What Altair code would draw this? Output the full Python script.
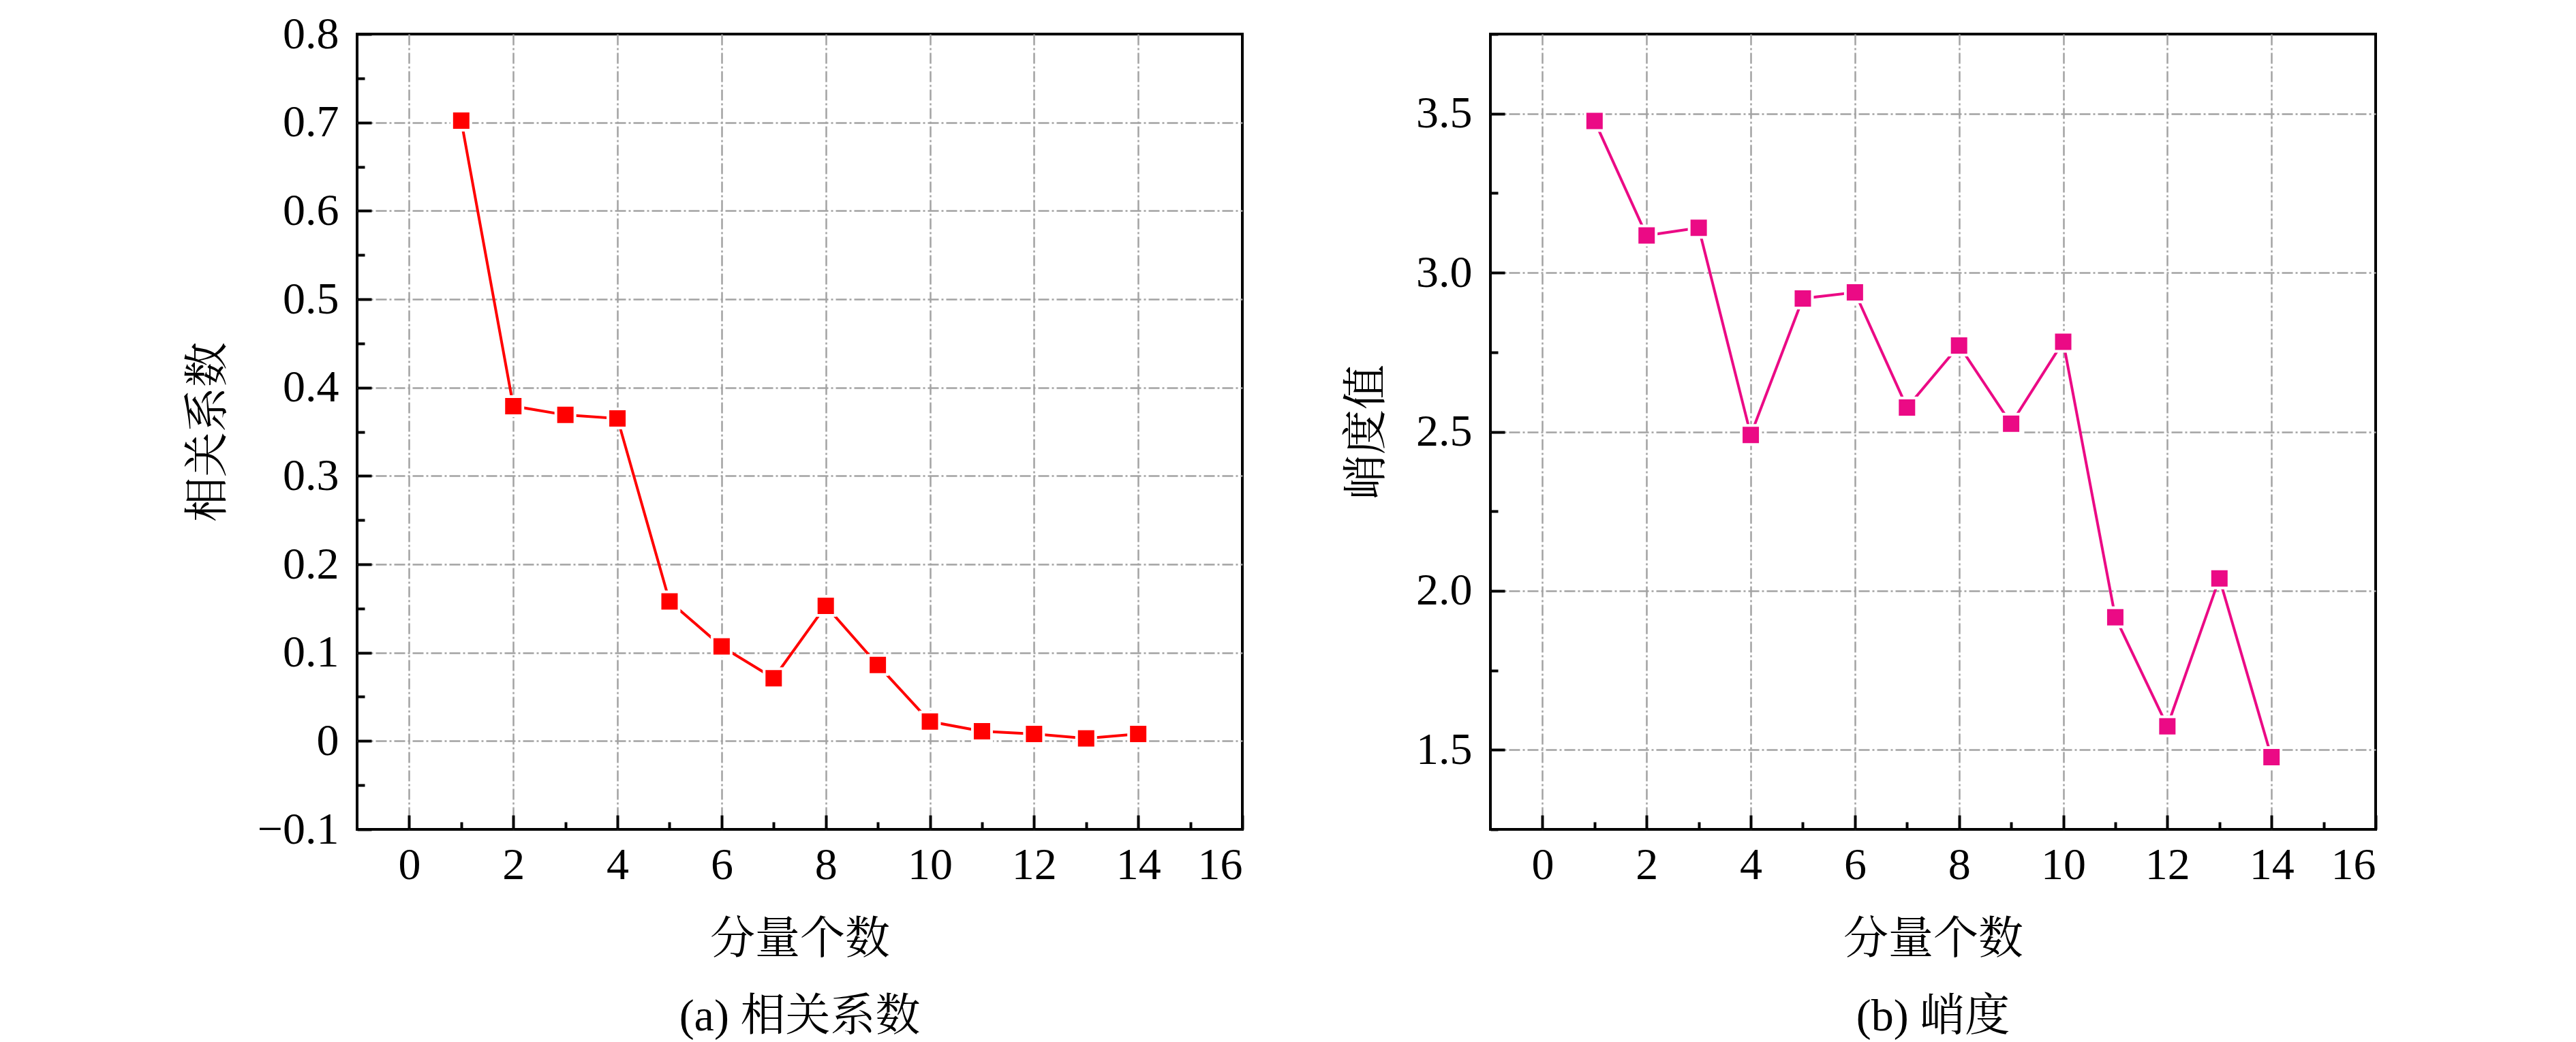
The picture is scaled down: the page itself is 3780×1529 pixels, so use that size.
import altair as alt
import pandas as pd

# ---------------- data ----------------
components = [1, 2, 3, 4, 5, 6, 7, 8, 9, 10, 11, 12, 13, 14]
corr_values = [0.702, 0.379, 0.369, 0.365, 0.158, 0.107, 0.071, 0.153, 0.086,
               0.022, 0.011, 0.008, 0.003, 0.008]
kurt_values = [3.477, 3.117, 3.141, 2.490, 2.919, 2.938, 2.576, 2.771, 2.525,
               2.783, 1.917, 1.574, 2.039, 1.477]

x_major = [0, 2, 4, 6, 8, 10, 12, 14, 16]
x_minor = [1, 3, 5, 7, 9, 11, 13, 15]
corr_major = [-0.1, 0.0, 0.1, 0.2, 0.3, 0.4, 0.5, 0.6, 0.7, 0.8]
corr_minor = [-0.05, 0.05, 0.15, 0.25, 0.35, 0.45, 0.55, 0.65, 0.75]
kurt_major = [1.5, 2.0, 2.5, 3.0, 3.5]
kurt_minor = [1.25, 1.75, 2.25, 2.75, 3.25, 3.75]

x_title = "分量个数"
FONT = "Liberation Serif, 'Noto Serif CJK SC', 'Noto Sans CJK SC', serif"
FS = 66
W, H = 1299, 1167
GRID_DASH = [16, 4, 3, 4]


def grid_cond(lo, hi):
    eps = 1e-6
    return {"condition": {"test": f"datum.value <= {lo + eps} || datum.value >= {hi - eps}",
                          "value": 0},
            "value": 1}


def panel(values, color, y_title, caption, y_domain, y_major, y_minor, y_fmt):
    df = pd.DataFrame({"n": components, "v": values})
    base = alt.Chart(df)
    xs = alt.Scale(domain=[-1, 16], nice=False, zero=False)
    ys = alt.Scale(domain=y_domain, nice=False, zero=False)

    x_lab = alt.Axis(values=x_major, format="d", title=x_title, orient="bottom",
                     grid=True, gridColor="#A3A3A3", gridWidth=2.5, gridDash=GRID_DASH,
                     gridOpacity=grid_cond(-1, 16),
                     ticks=False, tickSize=0, domain=False,
                     labelPadding=20, titlePadding=44)
    y_lab = alt.Axis(values=y_major, format=y_fmt, title=y_title, orient="left",
                     grid=True, gridColor="#A3A3A3", gridWidth=2.5, gridDash=GRID_DASH,
                     gridOpacity=grid_cond(y_domain[0], y_domain[1]),
                     ticks=False, tickSize=0, domain=False,
                     labelPadding=27, titlePadding=38)

    def tick_axis(vals, size, orient):
        return alt.Axis(values=vals, orient=orient, offset=-size, tickSize=size,
                        tickWidth=4, tickColor="black", labels=False,
                        domain=False, grid=False, title=None)

    labels_layer = base.mark_point(opacity=0).encode(
        x=alt.X("n:Q", scale=xs, axis=x_lab),
        y=alt.Y("v:Q", scale=ys, axis=y_lab),
    )
    line_layer = base.mark_line(color=color, strokeWidth=4).encode(
        x=alt.X("n:Q", scale=xs, axis=tick_axis(x_minor, 11, "bottom")),
        y=alt.Y("v:Q", scale=ys, axis=tick_axis(y_minor, 11, "left")),
    )
    point_layer = base.mark_square(size=784, color=color, opacity=1,
                                   stroke="white", strokeWidth=4).encode(
        x=alt.X("n:Q", scale=xs, axis=tick_axis(x_major, 21, "bottom")),
        y=alt.Y("v:Q", scale=ys, axis=tick_axis(y_major, 21, "left")),
    )
    return alt.layer(labels_layer, line_layer, point_layer).resolve_axis(
        x="independent", y="independent"
    ).properties(
        width=W, height=H,
        title=alt.TitleParams(caption, orient="bottom", anchor="middle",
                              fontSize=FS, font=FONT, fontWeight="normal",
                              color="black", baseline="top", offset=49),
    )


left = panel(corr_values, "#FF0000", "相关系数", "(a) 相关系数",
             [-0.1, 0.8], corr_major, corr_minor, ".1~f")
right = panel(kurt_values, "#EB0A85", "峭度值", "(b) 峭度",
              [1.25, 3.75], kurt_major, kurt_minor, ".1f")

chart = alt.hconcat(left, right, spacing=364, bounds="flush").properties(
    padding={"left": 262, "top": 7, "right": 10, "bottom": 0},
    background="white",
).configure_view(
    stroke="black", strokeWidth=4, fill="white"
).configure_axis(
    labelFont=FONT, titleFont=FONT, labelFontSize=FS, titleFontSize=FS,
    labelColor="black", titleColor="black", titleFontWeight="normal",
    labelFontWeight="normal",
)

chart.save("out.html", embed_options={"renderer": "svg", "actions": False})
